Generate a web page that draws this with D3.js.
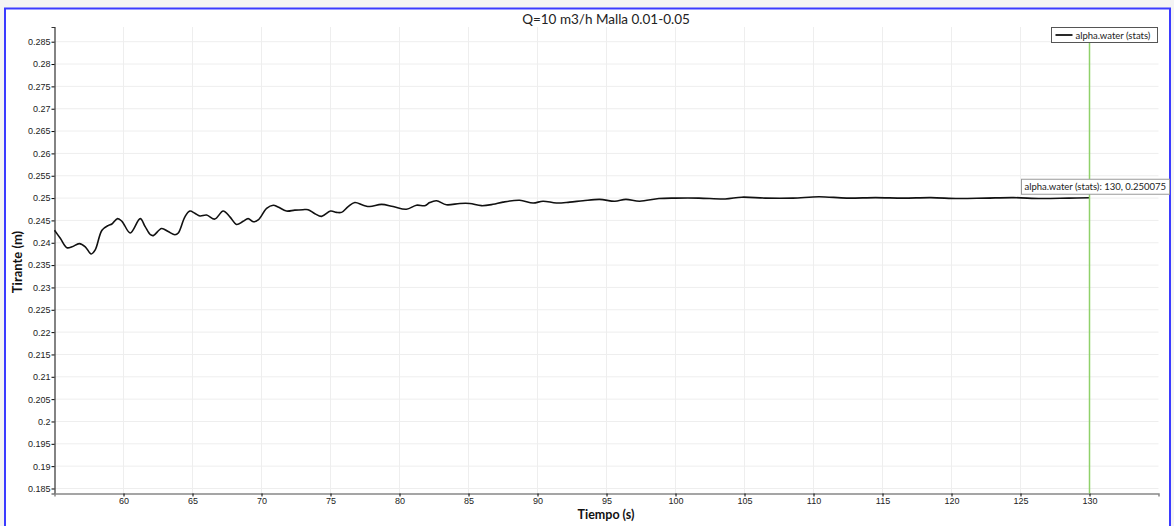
<!DOCTYPE html>
<html>
<head>
<meta charset="utf-8">
<script src="https://cdn.jsdelivr.net/npm/d3@7"></script>
<style>
  body { margin: 0; background: #f4f4f4; }
  svg { display: block; }
</style>
</head>
<body>
<svg id="chart" width="1174" height="526"></svg>
<script>
// data
let times = [55, 55.42, 55.9, 56.27, 56.8, 57.23, 57.66, 57.95, 58.44, 58.92, 59.16, 59.57, 59.89, 60.49, 61.21, 61.57, 61.95, 62.16, 62.76, 63.24, 63.73, 63.97, 64.45, 64.81, 65.17, 65.54, 66.02, 66.62, 67.22, 67.71, 68.19, 68.67, 69.03, 69.4, 69.76, 70.37, 70.85, 71.2, 71.81, 72.41, 73.0, 73.38, 73.87, 74.35, 75.0, 75.44, 75.8, 76.28, 76.76, 77.37, 77.85, 78.7, 79.54, 80.5, 81.23, 81.83, 82.19, 82.68, 83.4, 84.37, 85.09, 85.94, 86.78, 87.5, 88.71, 89.68, 90.4, 91.37, 92.33, 93.3, 94.5, 95.6, 96.4, 97.4, 98.8, 100, 101.7, 103.6, 104.8, 106.5, 108.5, 110.4, 112.4, 114.5, 116.5, 118.5, 120.5, 122.5, 124.5, 126.5, 128.5, 130];
let alphaWater = [0.2428, 0.2410, 0.2389, 0.2391, 0.2398, 0.2391, 0.2375, 0.2384, 0.2428, 0.2439, 0.2442, 0.2454, 0.2448, 0.2422, 0.2454, 0.2436, 0.2418, 0.2416, 0.2432, 0.2425, 0.2418, 0.2422, 0.2458, 0.2471, 0.2466, 0.2460, 0.2462, 0.2453, 0.2471, 0.2458, 0.2441, 0.2448, 0.2454, 0.2447, 0.2451, 0.2477, 0.2484, 0.2480, 0.2471, 0.2473, 0.2474, 0.2474, 0.2465, 0.2459, 0.2471, 0.2468, 0.2468, 0.2481, 0.2490, 0.2484, 0.2481, 0.2486, 0.2481, 0.2475, 0.2484, 0.2483, 0.2490, 0.2494, 0.2485, 0.2488, 0.2488, 0.2483, 0.2486, 0.2491, 0.2495, 0.2489, 0.2493, 0.2489, 0.2491, 0.2494, 0.2497, 0.2493, 0.2497, 0.2493, 0.2499, 0.2500, 0.2500, 0.2498, 0.2502, 0.2500, 0.2500, 0.2503, 0.2500, 0.2501, 0.2500, 0.2501, 0.2499, 0.2500, 0.2501, 0.2499, 0.2500, 0.250075];
let xTicks = [60, 65, 70, 75, 80, 85, 90, 95, 100, 105, 110, 115, 120, 125, 130];
let yTicks = [0.185, 0.19, 0.195, 0.2, 0.205, 0.21, 0.215, 0.22, 0.225, 0.23, 0.235, 0.24, 0.245, 0.25, 0.255, 0.26, 0.265, 0.27, 0.275, 0.28, 0.285];
let markerTime = 130;
let markerValue = 0.250075;
let seriesName = "alpha.water (stats)";

let svg = d3.select("#chart");
let pLeft = 54.5, pRight = 1158.5, pTop = 27, pBottom = 493.5;

// frame
svg.append("rect").attr("x", 5).attr("y", 8.5).attr("width", 1165).attr("height", 530)
    .attr("fill", "#fff").attr("stroke", "#3b3bff").attr("stroke-width", 2);

let x = d3.scaleLinear().domain([55, 135]).range([pLeft, pRight]);
let y = d3.scaleLinear().domain([0.18388, 0.28829]).range([pBottom, pTop]);

// grid
svg.append("g").selectAll("line").data(xTicks).join("line")
    .attr("x1", d => x(d)).attr("x2", d => x(d)).attr("y1", pTop).attr("y2", pBottom)
    .attr("stroke", "#eeeeee");
svg.append("g").selectAll("line").data(yTicks).join("line")
    .attr("x1", pLeft).attr("x2", pRight).attr("y1", d => y(d)).attr("y2", d => y(d))
    .attr("stroke", "#eeeeee");

// axes
let yAxis = svg.append("g").attr("transform", `translate(${pLeft},0)`)
    .call(d3.axisLeft(y).tickValues(yTicks).tickSize(3).tickPadding(1).tickFormat(d3.format("")));
yAxis.select(".domain").attr("stroke", "#333").attr("stroke-width", 1.2);
yAxis.selectAll("text").attr("font-family", "Liberation Sans, Arial, sans-serif").attr("font-size", 9).attr("fill", "#222");

let xAxis = svg.append("g").attr("transform", `translate(0,${pBottom})`)
    .call(d3.axisBottom(x).tickValues(xTicks).tickSize(3).tickPadding(1).tickFormat(d3.format("")));
xAxis.select(".domain").attr("stroke", "#888").attr("stroke-width", 1.5);
xAxis.selectAll("text").attr("font-family", "Liberation Sans, Arial, sans-serif").attr("font-size", 9).attr("fill", "#222");

// series
let pts = times.map((t, i) => ({t: t, v: alphaWater[i]}));
let oLine = d3.line().x(d => x(d.t)).y(d => y(d.v)).curve(d3.curveCatmullRom);
svg.append("path").attr("d", oLine(pts))
    .attr("fill", "none").attr("stroke", "#111").attr("stroke-width", 1.6);

// marker
svg.append("line").attr("x1", x(markerTime)).attr("x2", x(markerTime)).attr("y1", pTop).attr("y2", pBottom)
    .attr("stroke", "#8fd16a").attr("stroke-width", 1.5);

// tooltip
let tip = svg.append("g").attr("transform", `translate(1021.5,${y(markerValue) - 18.5})`);
tip.append("rect").attr("width", 148).attr("height", 15).attr("fill", "#fff").attr("stroke", "#999");
tip.append("text").attr("x", 3).attr("y", 11).attr("font-family", "Lato, sans-serif").attr("font-size", 9.5)
    .attr("fill", "#222").text(`${seriesName}: ${markerTime}, ${markerValue}`);

// legend
let leg = svg.append("g").attr("transform", "translate(1051.5,27.5)");
leg.append("rect").attr("width", 106).attr("height", 15).attr("fill", "#fff").attr("stroke", "#555");
leg.append("line").attr("x1", 4).attr("x2", 21).attr("y1", 7.5).attr("y2", 7.5).attr("stroke", "#111").attr("stroke-width", 1.8);
leg.append("text").attr("x", 24).attr("y", 11).attr("font-family", "Lato, sans-serif").attr("font-size", 9.5)
    .attr("fill", "#222").text(seriesName);

// titles
svg.append("text").attr("x", 606).attr("y", 24).attr("text-anchor", "middle")
    .attr("font-family", "Lato, sans-serif").attr("font-size", 13.5).attr("fill", "#222")
    .text("Q=10 m3/h Malla 0.01-0.05");
svg.append("text").attr("x", 606).attr("y", 519).attr("text-anchor", "middle")
    .attr("font-family", "Lato, sans-serif").attr("font-weight", "bold").attr("font-size", 12.5).attr("fill", "#111")
    .text("Tiempo (s)");
svg.append("text").attr("transform", "translate(22,262) rotate(-90)").attr("text-anchor", "middle")
    .attr("font-family", "Lato, sans-serif").attr("font-weight", "bold").attr("font-size", 13).attr("fill", "#111")
    .text("Tirante (m)");
</script>
</body>
</html>
